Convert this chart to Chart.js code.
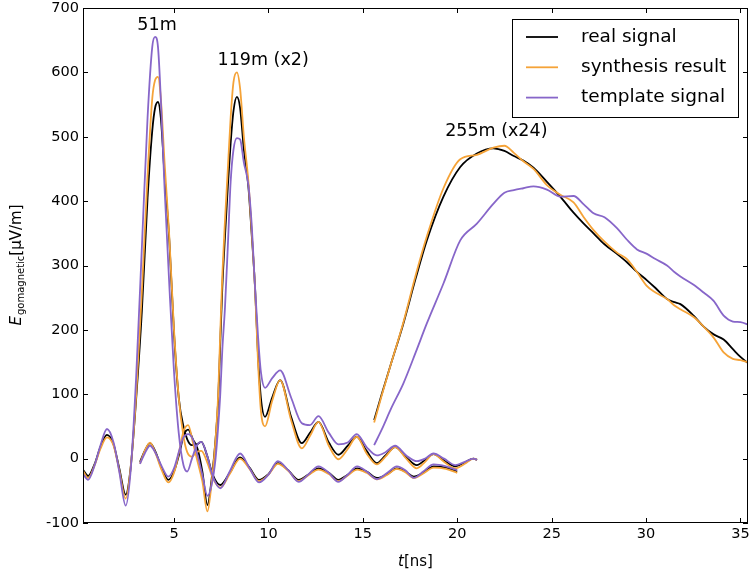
<!DOCTYPE html>
<html lang="en">
<head>
<meta charset="UTF-8">
<title>E gomagnetic pulses</title>
<script src="https://cdn.jsdelivr.net/npm/chart.js"></script>
<style>
  html, body { margin: 0; padding: 0; background: #fff; }
  #chart { display: block; }
</style>
</head>
<body>
<canvas id="chart" width="750" height="579"></canvas>
<script>
// time samples [ns] for each pulse
const t51  = [0.2, 0.45, 0.8, 1.1, 1.45, 1.8, 2.1, 2.44, 2.7, 3.0, 3.3, 3.6, 3.85, 4.0, 4.15, 4.3, 4.5, 4.75, 5.0, 5.25, 5.5, 5.7, 5.95, 6.2, 6.45, 6.75, 7.05, 7.45, 7.95, 8.5, 9.0, 9.5, 10.0, 10.5, 11.05, 11.6, 12.1, 12.65, 13.2, 13.7, 14.2, 14.7, 15.2, 15.75, 16.3, 16.8, 17.25, 17.7, 18.2, 18.75, 19.4, 20.0];
const t119 = [3.2, 3.45, 3.73, 4.0, 4.35, 4.7, 5.0, 5.3, 5.5, 5.75, 6.0, 6.25, 6.5, 6.77, 7.0, 7.2, 7.34, 7.45, 7.56, 7.7, 7.85, 8.0, 8.15, 8.33, 8.5, 8.7, 8.94, 9.1, 9.29, 9.45, 9.6, 9.82, 10.2, 10.62, 11.2, 11.77, 12.2, 12.65, 13.2, 13.71, 14.2, 14.68, 15.2, 15.74, 16.2, 16.71, 17.3, 17.86, 18.3, 18.74, 19.3, 19.9, 20.4, 20.86, 21.05];
const t255 = [15.6, 16.0, 16.5, 17.15, 17.8, 18.39, 19.27, 20.16, 21.04, 21.92, 22.5, 23.0, 23.5, 24.04, 24.75, 25.46, 26.16, 26.7, 27.22, 27.8, 28.46, 28.99, 29.52, 30.05, 30.5, 31.11, 31.5, 31.82, 32.52, 33.05, 33.58, 34.11, 34.6, 35.0, 35.5];

// real signal
const real51  = [-18, -27, -8, 18, 37, 22, -15, -56, -15, 95, 230, 405, 510, 545, 554, 530, 440, 340, 195, 95, 50, 30, 21, 22, 26, 5, -25, -41, -22, 2, -14, -33, -24, -7, -18, -33, -25, -15, -22, -33, -25, -15, -20, -30, -24, -15, -20, -28, -22, -12, -14, -20];
const real119 = [-5, 12, 24, 12, -15, -33, -20, 10, 35, 45, 30, 15, -20, -72, -30, 30, 91, 180, 267, 345, 422, 490, 540, 562, 545, 480, 422, 355, 267, 160, 95, 65, 95, 122, 65, 24, 40, 57, 25, 6, 20, 34, 12, -7, 5, 18, 2, -10, -2, 7, -3, -12, -6, 0, -2];
const real255 = [60, 100, 148, 210, 280, 339, 407, 453, 474, 482, 478, 470, 463, 452, 430, 407, 382, 365, 350, 333, 318, 305, 290, 277, 265, 248, 243, 240, 222, 205, 193, 185, 170, 158, 146];

// synthesis result
const synth51  = [-20, -30, -10, 15, 33, 20, -18, -62, -15, 100, 260, 440, 560, 588, 593, 560, 460, 345, 200, 95, 35, 10, 3, 10, 12, -5, -30, -45, -24, 0, -16, -35, -25, -8, -19, -35, -26, -17, -24, -35, -26, -17, -22, -32, -25, -16, -21, -30, -23, -14, -16, -22];
const synth119 = [-8, 12, 25, 10, -18, -37, -22, 15, 42, 52, 25, -5, -35, -82, -35, 30, 100, 195, 285, 370, 450, 530, 585, 600, 575, 500, 430, 360, 265, 150, 75, 50, 90, 122, 60, 16, 35, 57, 20, -1, 15, 34, 8, -9, 3, 18, 0, -15, -5, 7, -5, -15, -8, 0, -2];
const synth255 = [56, 98, 148, 212, 285, 345, 420, 465, 472, 483, 486, 475, 462, 450, 425, 410, 398, 375, 355, 337, 320, 310, 290, 268, 258, 248, 238, 232, 220, 205, 188, 165, 155, 153, 149];

// template signal
const templ51  = [-25, -33, -10, 20, 46, 25, -20, -73, -20, 130, 330, 530, 640, 655, 640, 560, 420, 270, 135, 40, -10, -20, 0, 20, 26, 5, -27, -46, -20, 8, -15, -37, -25, -4, -18, -36, -25, -12, -22, -36, -25, -12, -20, -32, -22, -12, -18, -30, -20, -9, -12, -18];
const templ119 = [-8, 8, 20, 10, -12, -28, -15, 15, 33, 38, 30, 5, -25, -58, -40, 0, 50, 100, 170, 235, 330, 430, 480, 498, 496, 460, 425, 370, 267, 190, 135, 110, 125, 137, 95, 55, 52, 66, 40, 22, 25, 38, 18, 5, 10, 20, 5, -4, 0, 8, 0, -10, -5, 0, -2];
const templ255 = [21, 45, 78, 117, 165, 210, 272, 339, 365, 396, 413, 417, 420, 423, 418, 407, 408, 395, 381, 375, 358, 340, 325, 318, 310, 300, 290, 283, 270, 258, 245, 222, 213, 212, 207];

const xTicks = [5, 10, 15, 20, 25, 30, 35];
const pulseLabels = ['51m', '119m (x2)', '255m (x24)'];
const labelT = [4.1, 9.72, 22.07];
const labelE = [673, 619, 508];

const FONT = '"DejaVu Sans", "Bitstream Vera Sans", sans-serif';

// three pulses joined into one series, broken by a null point
function joinPulses(a, b, c) {
    const pts = t51.map((t, i) => ({ x: t, y: a[i] }));
    pts.push({ x: t51[t51.length - 1], y: null });
    t119.forEach((t, i) => pts.push({ x: t, y: b[i] }));
    pts.push({ x: t119[t119.length - 1], y: null });
    t255.forEach((t, i) => pts.push({ x: t, y: c[i] }));
    return pts;
}

// no extra room for tick labels that hang over the plot edges
function noOverhang(scale) {
    scale.paddingLeft = 0;
    scale.paddingRight = 0;
    scale.paddingTop = 0;
    scale.paddingBottom = 0;
}

const decor = {
    id: 'decor',
    afterDatasetsDraw(chart) {
        const { ctx, chartArea: a, scales: { x, y } } = chart;
        ctx.save();

        // pulse labels
        ctx.fillStyle = '#000';
        ctx.font = '17.5px ' + FONT;
        ctx.textAlign = 'center';
        ctx.textBaseline = 'middle';
        pulseLabels.forEach((s, i) => {
            ctx.fillText(s, x.getPixelForValue(labelT[i]), y.getPixelForValue(labelE[i]));
        });

        // frame + inward ticks on all four sides
        ctx.strokeStyle = '#000';
        ctx.lineWidth = 1;
        ctx.strokeRect(a.left + 0.5, a.top + 0.5, a.right - a.left - 1, a.bottom - a.top - 1);
        ctx.beginPath();
        x.ticks.forEach(t => {
            const px = Math.round(x.getPixelForValue(t.value)) + 0.5;
            ctx.moveTo(px, a.bottom); ctx.lineTo(px, a.bottom - 5);
            ctx.moveTo(px, a.top); ctx.lineTo(px, a.top + 5);
        });
        y.ticks.forEach(t => {
            const py = Math.round(y.getPixelForValue(t.value)) + 0.5;
            ctx.moveTo(a.left, py); ctx.lineTo(a.left + 5, py);
            ctx.moveTo(a.right, py); ctx.lineTo(a.right - 5, py);
        });
        ctx.stroke();

        // legend box
        const bw = 226, bh = 98;
        const bx = a.right - 10 - bw, by = a.top + 11;
        ctx.fillStyle = '#fff';
        ctx.fillRect(bx, by, bw, bh);
        ctx.strokeRect(bx + 0.5, by + 0.5, bw, bh);
        ctx.font = '18.5px ' + FONT;
        ctx.textAlign = 'left';
        chart.data.datasets.forEach((ds, i) => {
            const ry = by + 18 + i * 30.3;
            ctx.strokeStyle = ds.borderColor;
            ctx.lineWidth = 1.8;
            ctx.beginPath();
            ctx.moveTo(bx + 14, ry); ctx.lineTo(bx + 46, ry);
            ctx.stroke();
            ctx.fillStyle = '#000';
            ctx.fillText(ds.label, bx + 69, ry);
        });

        // x axis title: t[ns]
        ctx.font = 'italic 15px ' + FONT;
        const w1 = ctx.measureText('t').width;
        ctx.font = '15px ' + FONT;
        const w2 = ctx.measureText('[ns]').width;
        let cx = (a.left + a.right) / 2 - (w1 + w2) / 2;
        ctx.font = 'italic 15px ' + FONT;
        ctx.fillText('t', cx, 562);
        ctx.font = '15px ' + FONT;
        ctx.fillText('[ns]', cx + w1, 562);

        // y axis title: E_gomagnetic[µV/m]
        ctx.translate(17, (a.top + a.bottom) / 2);
        ctx.rotate(-Math.PI / 2);
        ctx.font = 'italic 15px ' + FONT;
        const e1 = ctx.measureText('E').width;
        ctx.font = '10px ' + FONT;
        const e2 = ctx.measureText('gomagnetic').width;
        ctx.font = '15px ' + FONT;
        const e3 = ctx.measureText('[µV/m]').width;
        cx = -(e1 + e2 + e3) / 2;
        ctx.font = 'italic 15px ' + FONT;
        ctx.fillText('E', cx, 0);
        ctx.font = '10px ' + FONT;
        ctx.fillText('gomagnetic', cx + e1 + 1, 4);
        ctx.font = '15px ' + FONT;
        ctx.fillText('[µV/m]', cx + e1 + e2 + 1, 0);

        ctx.restore();
    }
};

const lineStyle = {
    borderWidth: 1.8,
    pointRadius: 0,
    fill: false,
    spanGaps: false,
    cubicInterpolationMode: 'monotone'
};

new Chart(document.getElementById('chart'), {
    type: 'line',
    data: {
        datasets: [
            { label: 'real signal', data: joinPulses(real51, real119, real255), borderColor: '#000000', order: 3, ...lineStyle },
            { label: 'synthesis result', data: joinPulses(synth51, synth119, synth255), borderColor: '#f5a338', order: 2, ...lineStyle },
            { label: 'template signal', data: joinPulses(templ51, templ119, templ255), borderColor: '#8766c9', order: 1, ...lineStyle }
        ]
    },
    options: {
        responsive: false,
        animation: false,
        devicePixelRatio: 1,
        layout: { padding: { top: 8, right: 2, left: 0, bottom: 0 } },
        plugins: { legend: { display: false }, tooltip: { enabled: false } },
        scales: {
            x: {
                type: 'linear',
                min: 0.18,
                max: 35.4,
                grid: { display: false, drawTicks: false },
                border: { display: false },
                afterBuildTicks: axis => { axis.ticks = xTicks.map(v => ({ value: v })); },
                afterFit: scale => { scale.height = 56; noOverhang(scale); },
                ticks: { color: '#000', font: { family: FONT, size: 14.5 }, padding: 3, maxRotation: 0 }
            },
            y: {
                min: -100,
                max: 700,
                grid: { display: false, drawTicks: false },
                border: { display: false },
                afterFit: scale => { scale.width = 83; noOverhang(scale); },
                ticks: { color: '#000', font: { family: FONT, size: 14.5 }, padding: 4, stepSize: 100 }
            }
        }
    },
    plugins: [decor]
});
</script>
</body>
</html>
